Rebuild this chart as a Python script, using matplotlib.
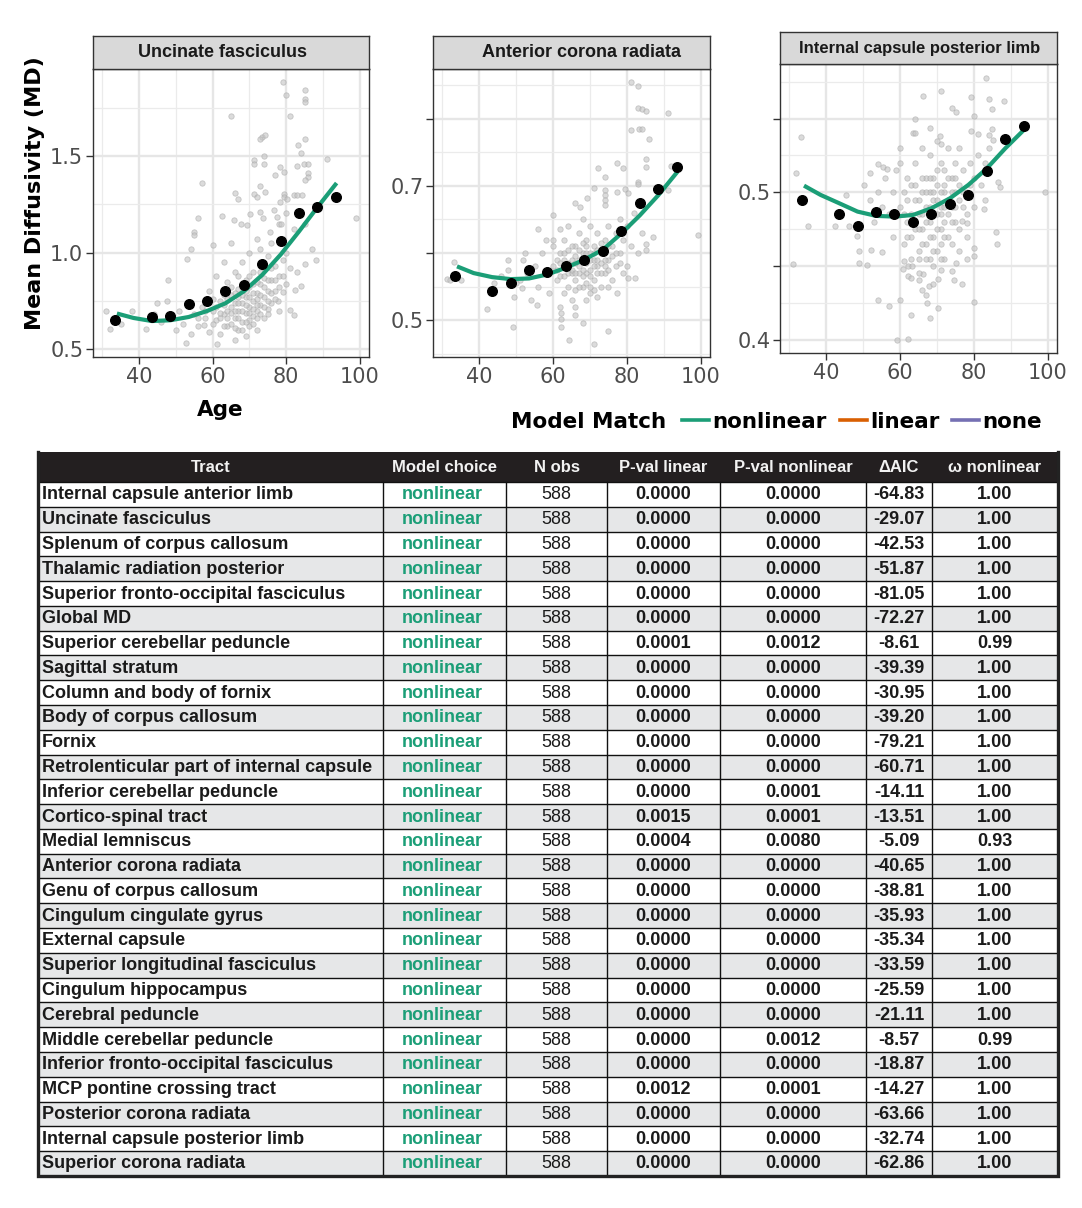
import matplotlib
matplotlib.use("Agg")
import matplotlib.pyplot as plt
from matplotlib import font_manager
from matplotlib.lines import Line2D
from matplotlib.patches import Rectangle

# ---------------------------------------------------------------- data
ages_bin = [33.5, 43.5, 48.5, 53.5, 58.5, 63.5, 68.5, 73.5, 78.5, 83.5, 88.5, 93.5]
curve_age = [34, 38.5, 43.5, 48.5, 53.5, 58.5, 63.5, 68.5, 73.5, 78.5, 83.5, 88.5, 93.7]

# Uncinate fasciculus
uf_means = [0.654, 0.667, 0.672, 0.736, 0.750, 0.800, 0.835, 0.940, 1.062, 1.205, 1.238, 1.290]
uf_curve = [0.685, 0.662, 0.646, 0.650, 0.667, 0.698, 0.738, 0.800, 0.885, 0.990, 1.110, 1.235, 1.360]
uf_cloud = [
    (79.1, 1.883), (80.0, 1.814), (85.0, 1.84), (85.0, 1.797), (85.0, 1.78), (64.9, 1.705),
    (81.1, 1.705), (73.4, 1.60), (74.3, 1.607), (72.9, 1.59), (85.0, 1.59), (83.2, 1.555),
    (84.1, 1.516), (71.2, 1.478), (71.2, 1.46), (74.1, 1.50), (74.1, 1.46), (83.0, 1.45),
    (84.9, 1.46), (86.0, 1.46), (91.2, 1.486), (78.2, 1.443), (77.0, 1.40), (79.3, 1.417),
    (86.0, 1.41), (86.0, 1.39), (57.0, 1.36), (72.9, 1.343), (85.0, 1.374), (66.2, 1.31),
    (71.2, 1.305), (72.0, 1.288), (74.3, 1.314), (79.3, 1.305), (79.3, 1.288), (82.0, 1.297),
    (83.0, 1.297), (84.2, 1.297), (66.8, 1.276), (78.4, 1.262), (80.2, 1.28), (56.1, 1.18),
    (62.6, 1.19), (70.1, 1.198), (65.8, 1.167), (72.9, 1.21), (73.8, 1.18), (76.6, 1.22),
    (77.5, 1.185), (80.0, 1.205), (78.1, 1.15), (78.6, 1.15), (99.1, 1.181), (55.0, 1.107),
    (55.0, 1.09), (67.6, 1.15), (69.4, 1.141), (75.5, 1.107), (82.0, 1.124), (85.1, 1.147),
    (60.0, 1.041), (54.1, 1.02), (87.1, 1.017), (88.0, 0.96), (85.0, 0.943), (53.0, 0.967),
    (48.0, 0.86), (45.0, 0.74), (41.9, 0.607), (32.0, 0.603), (31.1, 0.697), (35.1, 0.633),
    (52.7, 0.53), (61.1, 0.526), (82.0, 0.676), (81.1, 0.702), (77.9, 0.75), (79.1, 0.797),
    (84.1, 0.826), (82.3, 0.808), (57.7, 0.624), (47.5, 0.75),
    (60, 0.70), (61, 0.65), (62, 0.75), (63, 0.68), (64, 0.62), (64, 0.85), (65, 0.72),
    (65, 0.78), (66, 0.66), (66, 0.90), (67, 0.70), (67, 0.81), (67, 0.60), (68, 0.74),
    (68, 0.95), (68, 0.64), (69, 0.77), (69, 0.69), (69, 0.86), (70, 0.72), (70, 0.62),
    (70, 1.00), (70, 0.82), (71, 0.75), (71, 0.67), (71, 0.90), (72, 0.79), (72, 0.70),
    (72, 0.60), (73, 0.84), (73, 0.73), (73, 1.02), (74, 0.77), (74, 0.66), (74, 0.92),
    (75, 0.80), (75, 0.71), (75, 0.98), (76, 0.86), (76, 0.74), (77, 0.93), (77, 0.80),
    (78, 0.70), (78, 0.88), (79, 0.96), (80, 0.84), (81, 0.92), (58, 0.66), (57, 0.72),
    (56, 0.62), (55, 0.68), (54, 0.58), (53, 0.74), (52, 0.63), (51, 0.70), (50, 0.60),
    (59, 0.80), (62, 0.58), (66, 0.55), (69, 0.57), (63, 0.95), (65, 1.05), (72, 1.07),
    (76, 1.05), (80, 1.00), (83, 0.90), (61, 0.88), (59, 0.59), (48, 0.66), (46, 0.64),
    (44, 0.68), (38, 0.70), (70, 0.65), (68, 0.78), (66, 0.74), (72, 0.76), (74, 0.82),
    (64, 0.70), (67, 0.88), (71, 0.84),
    (61, 0.72), (62, 0.66), (63, 0.78), (63, 0.62), (64, 0.76), (64, 0.66), (65, 0.69),
    (65, 0.63), (65, 0.82), (66, 0.70), (66, 0.79), (66, 0.61), (67, 0.74), (67, 0.66),
    (68, 0.70), (68, 0.84), (68, 0.60), (69, 0.73), (69, 0.64), (69, 0.80), (70, 0.77),
    (70, 0.69), (70, 0.88), (71, 0.71), (71, 0.79), (71, 0.63), (72, 0.73), (72, 0.85),
    (72, 0.66), (73, 0.78), (73, 0.68), (73, 0.90), (74, 0.72), (74, 0.87), (75, 0.75),
    (75, 0.68), (75, 0.86), (76, 0.79), (76, 0.92), (77, 0.76), (77, 0.86), (78, 0.82),
    (79, 0.88), (63, 0.73), (60, 0.63), (62, 0.69), (58, 0.70), (56, 0.66), (60, 0.76),
    (67, 0.77),
]

# Anterior corona radiata
acr_means = [0.566, 0.544, 0.555, 0.574, 0.571, 0.581, 0.590, 0.603, 0.633, 0.674, 0.695, 0.728]
acr_curve = [0.580, 0.570, 0.564, 0.561, 0.562, 0.568, 0.578, 0.590, 0.605, 0.629, 0.656, 0.686, 0.721]
acr_cloud = [
    (81.1, 0.854), (83.1, 0.849), (83.1, 0.816), (84.2, 0.815), (85.1, 0.811), (91.0, 0.808),
    (81.1, 0.783), (83.3, 0.784), (84.2, 0.784), (86.0, 0.769), (85.1, 0.74), (85.1, 0.728),
    (77.2, 0.734), (79.0, 0.727), (72.1, 0.727), (91.9, 0.729), (74.1, 0.713), (83.1, 0.706),
    (83.1, 0.702), (71.2, 0.696), (91.2, 0.694), (77.2, 0.691), (79.5, 0.695), (80.4, 0.689),
    (74.1, 0.694), (74.1, 0.686), (74.1, 0.679), (74.1, 0.671), (69.1, 0.682), (66.0, 0.674),
    (67.3, 0.669), (60.1, 0.657), (99.3, 0.627), (56.0, 0.635), (59.9, 0.619), (52.4, 0.60),
    (87.1, 0.624), (85.1, 0.604), (85.1, 0.613), (47.9, 0.589), (47.9, 0.575), (33.1, 0.586),
    (31.3, 0.561), (32.2, 0.559), (35.0, 0.559), (42.1, 0.517), (49.1, 0.49), (62.1, 0.511),
    (62.1, 0.501), (62.1, 0.489), (64.2, 0.47), (68.2, 0.495), (71.1, 0.464), (75.0, 0.483),
    (77.2, 0.541), (80.2, 0.562), (82.2, 0.563), (66.0, 0.507), (55.6, 0.523), (51.5, 0.548),
    (49.3, 0.535),
    (60, 0.58), (61, 0.56), (62, 0.60), (63, 0.54), (63, 0.62), (64, 0.57), (65, 0.59),
    (65, 0.53), (66, 0.61), (66, 0.56), (67, 0.58), (67, 0.63), (68, 0.55), (68, 0.60),
    (69, 0.57), (69, 0.62), (70, 0.59), (70, 0.54), (70, 0.64), (71, 0.61), (71, 0.56),
    (72, 0.58), (72, 0.63), (73, 0.60), (73, 0.55), (74, 0.62), (74, 0.57), (75, 0.64),
    (75, 0.59), (76, 0.61), (76, 0.56), (77, 0.63), (77, 0.58), (78, 0.65), (78, 0.60),
    (79, 0.62), (80, 0.58), (80, 0.64), (81, 0.61), (82, 0.66), (58, 0.57), (57, 0.60),
    (56, 0.55), (55, 0.58), (54, 0.53), (53, 0.57), (52, 0.59), (51, 0.56), (50, 0.555),
    (59, 0.54), (62, 0.52), (66, 0.52), (69, 0.53), (72, 0.535), (64, 0.64), (68, 0.65),
    (62, 0.635), (58, 0.62), (60, 0.61), (75, 0.55), (79, 0.57), (84, 0.63), (83, 0.60),
    (46, 0.565), (44, 0.555), (65, 0.57), (67, 0.55), (71, 0.59), (73, 0.57), (69, 0.60),
    (61, 0.59), (63, 0.58),
    (61, 0.575), (62, 0.565), (62, 0.585), (63, 0.60), (63, 0.565), (64, 0.585), (64, 0.605),
    (64, 0.55), (65, 0.61), (65, 0.575), (66, 0.585), (66, 0.595), (66, 0.545), (67, 0.57),
    (67, 0.605), (67, 0.59), (68, 0.575), (68, 0.615), (68, 0.565), (69, 0.585), (69, 0.555),
    (69, 0.61), (70, 0.575), (70, 0.60), (70, 0.565), (71, 0.58), (71, 0.60), (71, 0.545),
    (72, 0.57), (72, 0.605), (72, 0.59), (73, 0.585), (73, 0.615), (74, 0.59), (74, 0.605),
    (75, 0.575), (75, 0.61), (76, 0.595), (77, 0.60), (78, 0.585), (66, 0.57), (68, 0.59),
    (63, 0.59), (70, 0.55), (74, 0.58),
]

# Internal capsule posterior limb
icp_means = [0.4946, 0.4851, 0.4772, 0.4869, 0.4855, 0.4801, 0.4853, 0.4919, 0.4980, 0.5144, 0.5363, 0.5451]
icp_curve = [0.5045, 0.4982, 0.4926, 0.4869, 0.4840, 0.4835, 0.4846, 0.4892, 0.4959, 0.5050, 0.5162, 0.5298, 0.5427]
icp_cloud = [
    (83.2, 0.5776), (71.1, 0.5686), (66.1, 0.5654), (79.2, 0.5643), (84.1, 0.5636), (88.2, 0.562),
    (74.2, 0.5573), (75.1, 0.5546), (85.0, 0.5564), (80.1, 0.5517), (33.1, 0.5377), (64.1, 0.5497),
    (68.2, 0.5433), (70.9, 0.5381), (71.1, 0.5325), (63.6, 0.5399), (60.1, 0.530), (81.0, 0.5395),
    (79.2, 0.5418), (85.0, 0.5427), (84.1, 0.5388), (85.3, 0.5354), (31.9, 0.5129), (54.0, 0.519),
    (55.3, 0.5174), (56.5, 0.5156), (52.0, 0.5129), (99.3, 0.500), (50.2, 0.505), (45.4, 0.4982),
    (35.0, 0.4772), (42.3, 0.4772), (46.3, 0.4772), (31.0, 0.4513), (48.3, 0.4704), (49.0, 0.4603),
    (49.0, 0.4519), (51.1, 0.4504), (52.2, 0.461), (55.1, 0.4592), (60.9, 0.4479), (62.1, 0.4497),
    (63.2, 0.4499), (61.2, 0.4535), (62.1, 0.4429), (63.0, 0.4418), (66.1, 0.4445), (65.2, 0.4402),
    (66.0, 0.4339), (67.0, 0.4305), (67.9, 0.4366), (68.8, 0.4377), (70.2, 0.4411), (71.1, 0.4474),
    (74.2, 0.4463), (75.1, 0.4519), (74.5, 0.4402), (76.7, 0.4377), (80.1, 0.4621), (80.1, 0.4565),
    (54.0, 0.4267), (57.1, 0.423), (60.1, 0.4267), (63.0, 0.4165), (68.2, 0.4147), (70.2, 0.4215),
    (67.3, 0.4248), (80.1, 0.4253), (59.2, 0.400), (62.1, 0.4005), (86.0, 0.4734), (86.2, 0.465),
    (87.1, 0.5038), (86.4, 0.5072), (82.8, 0.4885), (76.9, 0.4808), (78.1, 0.479), (83.0, 0.4948),
    (60, 0.49), (61, 0.50), (62, 0.48), (62, 0.51), (63, 0.47), (64, 0.495), (64, 0.52),
    (65, 0.485), (65, 0.46), (66, 0.50), (66, 0.475), (67, 0.51), (67, 0.49), (67, 0.465),
    (68, 0.50), (68, 0.48), (68, 0.525), (69, 0.495), (69, 0.47), (69, 0.51), (70, 0.485),
    (70, 0.505), (70, 0.46), (71, 0.52), (71, 0.49), (71, 0.475), (72, 0.50), (72, 0.515),
    (72, 0.48), (73, 0.495), (73, 0.53), (73, 0.47), (74, 0.51), (74, 0.49), (75, 0.52),
    (75, 0.50), (75, 0.48), (76, 0.505), (76, 0.53), (77, 0.49), (77, 0.515), (78, 0.50),
    (78, 0.47), (79, 0.52), (80, 0.51), (80, 0.49), (81, 0.525), (82, 0.505), (58, 0.50),
    (57, 0.485), (56, 0.51), (55, 0.49), (54, 0.50), (53, 0.48), (52, 0.495), (59, 0.515),
    (58, 0.47), (61, 0.465), (63, 0.455), (65, 0.445), (69, 0.45), (72, 0.455), (66, 0.53),
    (70, 0.535), (64, 0.54), (76, 0.46), (78, 0.455), (83, 0.52), (84, 0.53), (60, 0.52),
    (68, 0.455), (74, 0.465),
    (61, 0.485), (62, 0.495), (62, 0.47), (63, 0.505), (63, 0.485), (64, 0.475), (64, 0.505),
    (65, 0.495), (65, 0.475), (66, 0.485), (66, 0.51), (66, 0.465), (67, 0.50), (67, 0.48),
    (68, 0.49), (68, 0.47), (68, 0.51), (69, 0.485), (69, 0.50), (69, 0.46), (70, 0.495),
    (70, 0.475), (70, 0.515), (71, 0.50), (71, 0.485), (71, 0.465), (72, 0.49), (72, 0.47),
    (72, 0.505), (73, 0.485), (73, 0.51), (74, 0.50), (74, 0.48), (75, 0.49), (75, 0.51),
    (76, 0.495), (76, 0.475), (77, 0.50), (78, 0.485), (79, 0.505), (67, 0.455), (65, 0.455),
    (71, 0.455),
]

panel_titles = ["Uncinate fasciculus", "Anterior corona radiata", "Internal capsule posterior limb"]
y_ticks = [[0.5, 1.0, 1.5], [0.5, 0.6, 0.7, 0.8], [0.4, 0.45, 0.5, 0.55]]
y_ticklabels = [["0.5", "1.0", "1.5"], ["0.5", "", "0.7", ""], ["0.4", "", "0.5", ""]]
y_minor = [[0.75, 1.25, 1.75], [0.45, 0.55, 0.65, 0.75, 0.85], [0.425, 0.475, 0.525, 0.575]]
y_lims = [(0.46, 1.95), (0.445, 0.874), (0.391, 0.587)]
x_ticks = [40, 60, 80, 100]
x_minor = [30, 50, 70, 90]

legend_labels = ["nonlinear", "linear", "none"]
legend_colors = ["#1b9e77", "#d95f02", "#7570b3"]

tracts = [
    "Internal capsule anterior limb", "Uncinate fasciculus", "Splenum of corpus callosum",
    "Thalamic radiation posterior", "Superior fronto-occipital fasciculus", "Global MD",
    "Superior cerebellar peduncle", "Sagittal stratum", "Column and body of fornix",
    "Body of corpus callosum", "Fornix", "Retrolenticular part of internal capsule",
    "Inferior cerebellar peduncle", "Cortico-spinal tract", "Medial lemniscus",
    "Anterior corona radiata", "Genu of corpus callosum", "Cingulum cingulate gyrus",
    "External capsule", "Superior longitudinal fasciculus", "Cingulum hippocampus",
    "Cerebral peduncle", "Middle cerebellar peduncle", "Inferior fronto-occipital fasciculus",
    "MCP pontine crossing tract", "Posterior corona radiata", "Internal capsule posterior limb",
    "Superior corona radiata",
]
model_choice = ["nonlinear"] * 28
n_obs = [588] * 28
pval_linear = [0, 0, 0, 0, 0, 0, 0.0001, 0, 0, 0, 0, 0, 0, 0.0015, 0.0004, 0, 0, 0, 0, 0,
               0, 0, 0, 0, 0.0012, 0, 0, 0]
pval_nonlinear = [0, 0, 0, 0, 0, 0, 0.0012, 0, 0, 0, 0, 0, 0.0001, 0.0001, 0.0080, 0, 0, 0,
                  0, 0, 0, 0, 0.0012, 0, 0.0001, 0, 0, 0]
delta_aic = [-64.83, -29.07, -42.53, -51.87, -81.05, -72.27, -8.61, -39.39, -30.95, -39.20,
             -79.21, -60.71, -14.11, -13.51, -5.09, -40.65, -38.81, -35.93, -35.34, -33.59,
             -25.59, -21.11, -8.57, -18.87, -14.27, -63.66, -32.74, -62.86]
omega_nonlinear = [1.00, 1.00, 1.00, 1.00, 1.00, 1.00, 0.99, 1.00, 1.00, 1.00, 1.00, 1.00,
                   1.00, 1.00, 0.93, 1.00, 1.00, 1.00, 1.00, 1.00, 1.00, 1.00, 0.99, 1.00,
                   1.00, 1.00, 1.00, 1.00]
headers = ["Tract", "Model choice", "N obs", "P-val linear", "P-val nonlinear", "\u0394AIC",
           "\u03c9 nonlinear"]

# ---------------------------------------------------------------- layout
W, H = 1082, 1208
fig = plt.figure(figsize=(W / 100, H / 100), dpi=100)

installed = {f.name for f in font_manager.fontManager.ttflist}
narrow = "Liberation Sans Narrow" in installed
head_font = ["Liberation Sans Narrow", "DejaVu Sans"] if narrow else ["Liberation Sans", "DejaVu Sans"]
head_size = 15 if narrow else 12


def px_axes(x0, y0, x1, y1):
    return fig.add_axes([x0 / W, 1 - y1 / H, (x1 - x0) / W, (y1 - y0) / H])


# pixel boxes: (left, strip top, plot top, right, bottom)
boxes = [(93, 36, 69, 369, 357), (433, 36, 69, 710, 357), (780, 32, 64, 1057, 353)]
title_shift = [-9, 9.5, 1]
means = [uf_means, acr_means, icp_means]
curves = [uf_curve, acr_curve, icp_curve]
clouds = [uf_cloud, acr_cloud, icp_cloud]

for i, (x0, st, pt, x1, y1) in enumerate(boxes):
    ax = px_axes(x0, pt, x1, y1)
    cx = [p[0] for p in clouds[i]]
    cy = [p[1] for p in clouds[i]]
    ax.scatter(cx, cy, s=15, facecolor="#c4c4c4", edgecolor="#a8a8a8", linewidth=0.6,
               alpha=0.6, zorder=2)
    ax.plot(curve_age, curves[i], color="#1b9e77", lw=3, solid_capstyle="butt", zorder=3)
    ax.scatter(ages_bin, means[i], s=48, color="black", zorder=4)
    ax.set_xlim(27.5, 102.5)
    ax.set_ylim(*y_lims[i])
    ax.set_xticks(x_ticks)
    ax.set_xticks(x_minor, minor=True)
    ax.set_yticks(y_ticks[i])
    ax.set_yticklabels(y_ticklabels[i])
    ax.set_yticks(y_minor[i], minor=True)
    ax.grid(which="major", color="#e6e6e6", lw=1.7)
    ax.grid(which="minor", color="#ebebeb", lw=0.9)
    ax.set_axisbelow(True)
    ax.tick_params(which="major", labelsize=15, labelcolor="#4d4d4d", length=5, width=1,
                   color="#333333", pad=2)
    ax.tick_params(which="minor", length=0)
    for lab in ax.get_xticklabels() + ax.get_yticklabels():
        lab.set_family("DejaVu Sans")
    for sp in ax.spines.values():
        sp.set_color("#333333")
        sp.set_linewidth(1)

    sax = px_axes(x0, st, x1, pt)
    sax.set_facecolor("#d9d9d9")
    sax.set_xlim(x0, x1)
    sax.set_xticks([])
    sax.set_yticks([])
    for sp in sax.spines.values():
        sp.set_color("#333333")
        sp.set_linewidth(1)
    sax.text((x0 + x1) / 2 + title_shift[i], 0.5, panel_titles[i], ha="center", va="center",
             fontsize=13 if i < 2 else 12, fontweight="bold", family="Liberation Sans",
             color="#1a1a1a", transform=sax.get_xaxis_transform())

# overlay in pixel coordinates for labels, legend and table
ov = fig.add_axes([0, 0, 1, 1])
ov.set_xlim(0, W)
ov.set_ylim(H, 0)
ov.axis("off")

ov.text(35, 193, "Mean Diffusivity (MD)", rotation=90, ha="center", va="center",
        fontsize=16, fontweight="bold", family="DejaVu Sans", color="black")
ov.text(220, 416, "Age", ha="center", va="baseline", fontsize=15.5, fontweight="bold",
        family="DejaVu Sans", color="black")

# legend
ov.text(511, 428, "Model Match", ha="left", va="baseline", fontsize=15.5, fontweight="bold",
        family="DejaVu Sans", color="black")
leg_x = [682, 840, 952]
for lx, lab, col in zip(leg_x, legend_labels, legend_colors):
    ov.add_line(Line2D([lx, lx + 27], [420, 420], color=col, lw=2.6))
    ov.text(lx + 30, 428, lab, ha="left", va="baseline", fontsize=15.5, fontweight="bold",
            family="DejaVu Sans", color="black")

# table
col_edges = [38, 383, 506, 607, 720, 866, 932, 1058]
head_top, head_bot = 452, 482
row_h = 24.78
n_rows = len(tracts)
tab_bot = head_bot + n_rows * row_h

ov.add_patch(Rectangle((col_edges[0], head_top), col_edges[-1] - col_edges[0],
                       head_bot - head_top, facecolor="#231f20", edgecolor="none"))
for j, h in enumerate(headers):
    cxp = (col_edges[j] + col_edges[j + 1]) / 2
    ov.text(cxp, (head_top + head_bot) / 2 + 1, h, ha="center", va="center",
            fontsize=head_size, fontweight="bold", family=head_font, color="#f2f2f2")

for r in range(n_rows):
    ytop = head_bot + r * row_h
    ov.add_patch(Rectangle((col_edges[0], ytop), col_edges[-1] - col_edges[0], row_h,
                           facecolor="white" if r % 2 == 0 else "#e6e7e8", edgecolor="none"))
    ov.add_line(Line2D([col_edges[0], col_edges[-1]], [ytop, ytop], color="#111111", lw=1))
    yc = ytop + row_h / 2 + 0.5
    cells = [
        str(n_obs[r]),
        f"{pval_linear[r]:.4f}",
        f"{pval_nonlinear[r]:.4f}",
        f"{delta_aic[r]:.2f}",
        f"{omega_nonlinear[r]:.2f}",
    ]
    ov.text(col_edges[0] + 4, yc, tracts[r], ha="left", va="center", fontsize=13,
            fontweight="bold", family="Liberation Sans", color="#1a1a1a")
    ov.text((col_edges[1] + col_edges[2]) / 2 - 2, yc, model_choice[r], ha="center",
            va="center", fontsize=13, fontweight="bold", family="Liberation Sans",
            color="#1b9e77")
    for k, txt in enumerate(cells):
        c = k + 2
        ov.text((col_edges[c] + col_edges[c + 1]) / 2, yc, txt, ha="center", va="center",
                fontsize=13, fontweight="normal" if k == 0 else "bold",
                family="Liberation Sans", color="#1a1a1a")

for xe in col_edges[1:-1]:
    ov.add_line(Line2D([xe, xe], [head_bot, tab_bot], color="#111111", lw=1))
# outer border
ov.add_line(Line2D([col_edges[0], col_edges[0], col_edges[-1], col_edges[-1]],
                   [head_top, tab_bot, tab_bot, head_top], color="#222222", lw=2.4,
                   solid_joinstyle="miter"))

fig.savefig("out.png", dpi=100)
